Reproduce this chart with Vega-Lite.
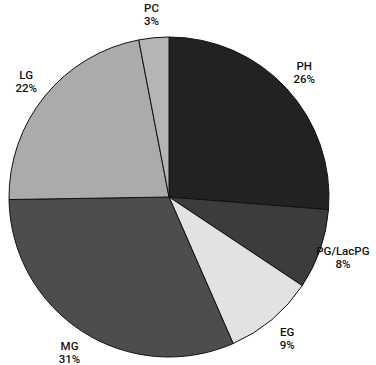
{
  "$schema": "https://vega.github.io/schema/vega-lite/v6.json",
  "width": 338,
  "height": 364,
  "autosize": "none",
  "padding": {"left": 0, "top": 15, "right": 38, "bottom": 0},
  "background": "white",
  "config": {"view": {"stroke": null}},
  "data": {
    "values": [
      {"o": 1, "cls": "PH", "pct": 26, "label": "PH\n26%"},
      {"o": 2, "cls": "PG/LacPG", "pct": 8, "label": "PG/LacPG\n8%"},
      {"o": 3, "cls": "EG", "pct": 9, "label": "EG\n9%"},
      {"o": 4, "cls": "MG", "pct": 31, "label": "MG\n31%"},
      {"o": 5, "cls": "LG", "pct": 22, "label": "LG\n22%"},
      {"o": 6, "cls": "PC", "pct": 3, "label": "PC\n3%"}
    ]
  },
  "encoding": {
    "theta": {"field": "pct", "type": "quantitative", "stack": true},
    "order": {"field": "o", "type": "quantitative"}
  },
  "layer": [
    {
      "mark": {"type": "arc", "outerRadius": 160, "stroke": "#111", "strokeWidth": 1},
      "encoding": {
        "color": {
          "field": "cls",
          "type": "nominal",
          "legend": null,
          "scale": {
            "domain": ["PH", "PG/LacPG", "EG", "MG", "LG", "PC"],
            "range": ["#222222", "#3c3c3c", "#e2e2e2", "#4d4d4d", "#ababab", "#b5b5b5"]
          }
        }
      }
    },
    {
      "mark": {"type": "text", "radius": 184, "dy": -5, "font": "Roboto", "fontWeight": 500, "fontSize": 11.5, "lineBreak": "\n", "lineHeight": 13, "align": "center", "baseline": "middle", "fill": "#111"},
      "encoding": {"text": {"field": "label"}}
    }
  ]
}
